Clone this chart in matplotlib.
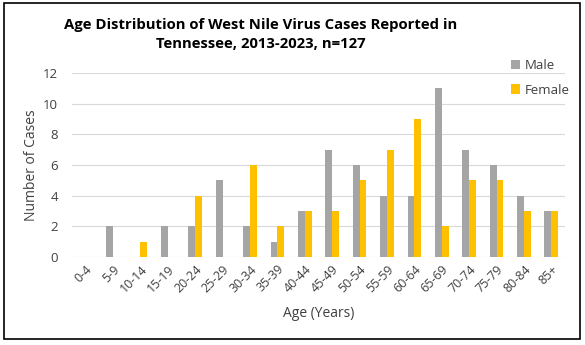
import matplotlib.pyplot as plt
import numpy as np

plt.rcParams['font.family'] = ['Open Sans', 'DejaVu Sans']

age_groups = ['0-4', '5-9', '10-14', '15-19', '20-24', '25-29', '30-34', '35-39', '40-44',
              '45-49', '50-54', '55-59', '60-64', '65-69', '70-74', '75-79', '80-84', '85+']
male = [0, 2, 0, 2, 2, 5, 2, 1, 3, 7, 6, 4, 4, 11, 7, 6, 4, 3]
female = [0, 0, 1, 0, 4, 0, 6, 2, 3, 3, 5, 7, 9, 2, 5, 5, 3, 3]

fig = plt.figure(figsize=(5.85, 3.45), dpi=100)
ax = fig.add_axes([72 / 585, 1 - 257 / 345, 493 / 585, 184 / 345])

x = np.arange(len(age_groups))
w = 0.25
ax.bar(x - w / 2, male, w, color='#A5A5A5', label='Male', zorder=3)
ax.bar(x + w / 2, female, w, color='#FFC000', label='Female', zorder=3)

ax.set_xlim(-0.5, len(age_groups) - 0.5)
ax.set_ylim(0, 12)
ax.set_yticks(range(0, 13, 2))
ax.yaxis.grid(True, color='#D9D9D9', linewidth=0.8, zorder=0)
for s in ax.spines.values():
    s.set_visible(False)
ax.tick_params(length=0, labelsize=9.5, colors='#404040')
ax.tick_params(axis='y', pad=10)
ax.set_xticks(x)
ax.set_xticklabels(age_groups, rotation=45, ha='right', rotation_mode='anchor', fontsize=9)
ax.tick_params(axis='x', pad=4)
ax.set_ylabel('Number of Cases', fontsize=10, color='#404040', labelpad=3)
ax.set_xlabel('Age (Years)', fontsize=10, color='#404040', labelpad=8)

fig.text(261 / 585, 1 - 18 / 345,
         'Age Distribution of West Nile Virus Cases Reported in\nTennessee, 2013-2023, n=127',
         fontsize=10.7, fontweight='bold', ha='center', va='top', linespacing=1.5)

fig.legend(loc='upper left', bbox_to_anchor=(0.853, 0.862), frameon=False,
           fontsize=9.5, handlelength=0.7, handleheight=0.7, handletextpad=0.35,
           labelspacing=0.85, labelcolor='#404040')

fig.patches.append(plt.Rectangle((0.007, 0.017), 0.985, 0.975, transform=fig.transFigure,
                                 fill=False, edgecolor='black', linewidth=1.2))

fig.savefig('out.png', dpi=100)
